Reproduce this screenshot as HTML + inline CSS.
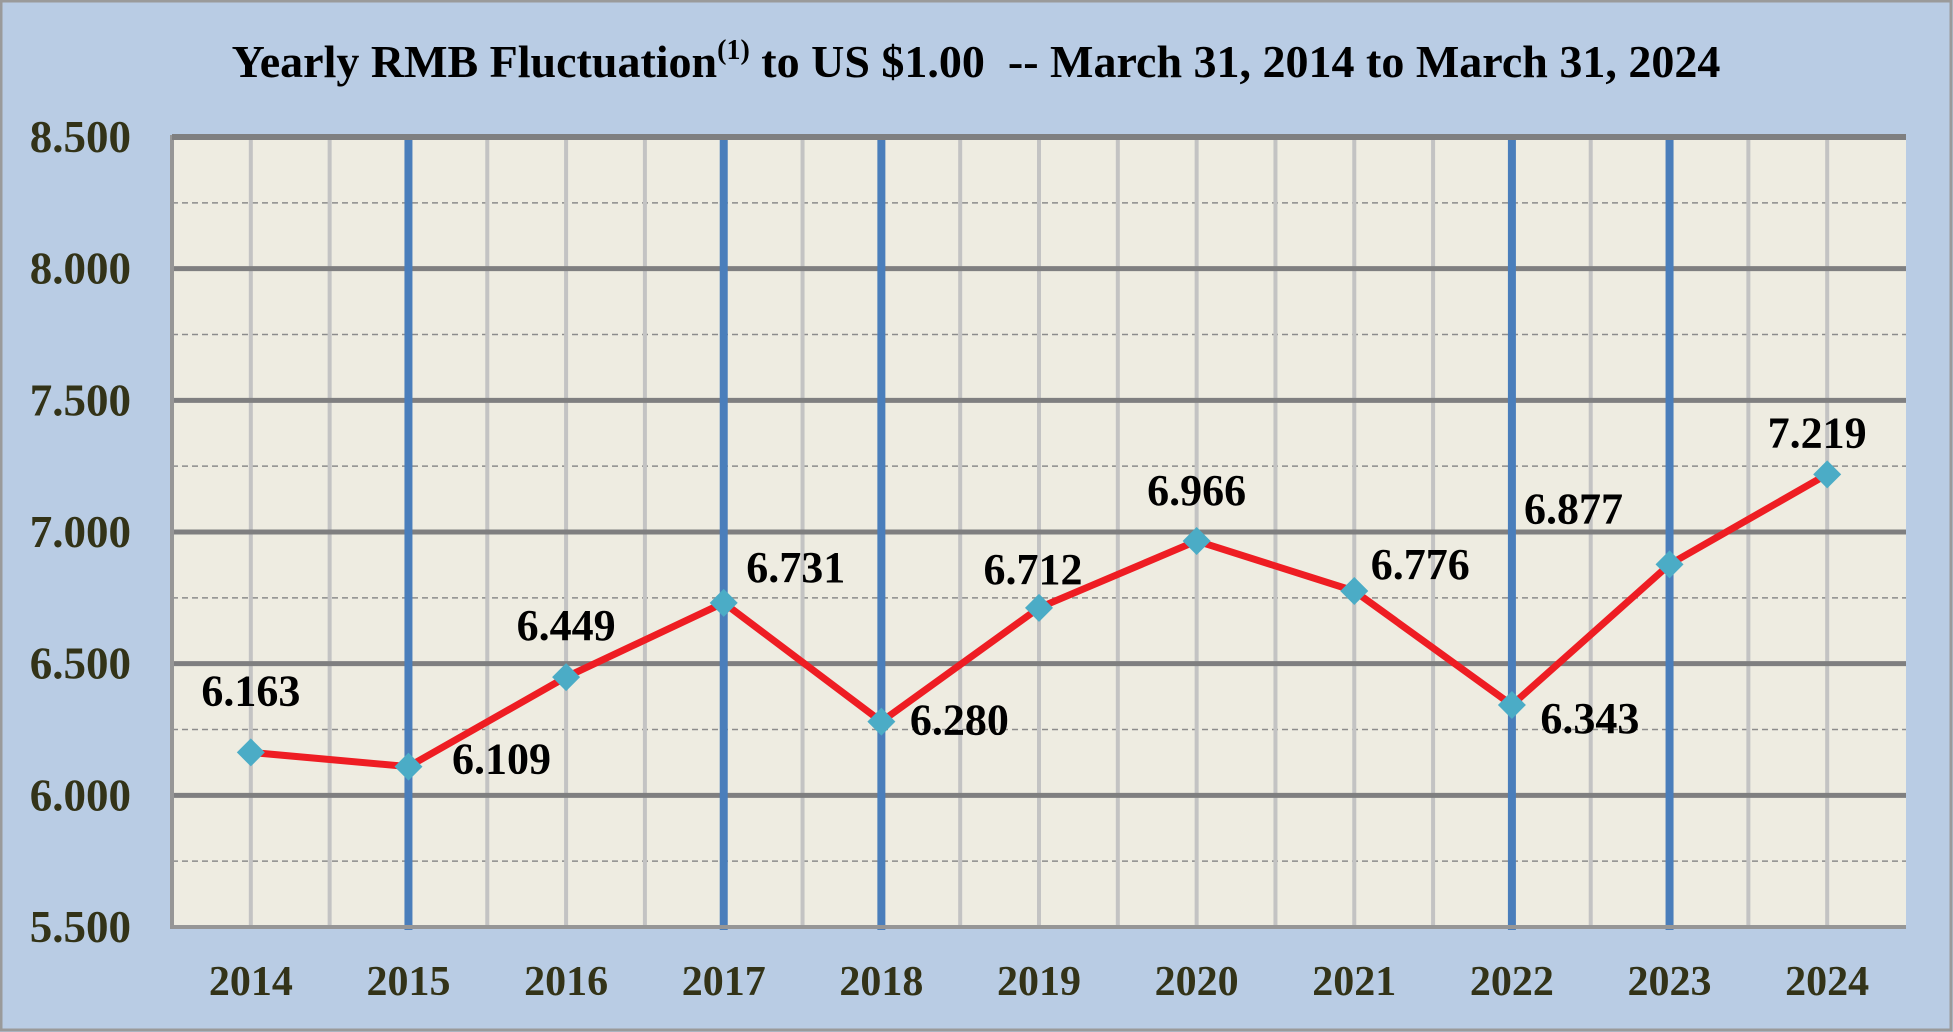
<!DOCTYPE html>
<html><head><meta charset="utf-8"><style>
html,body{margin:0;padding:0;background:#b9cce4;}
svg{display:block;font-family:"Liberation Serif",serif;font-weight:bold;}
</style></head><body>
<svg id="chart" width="1953" height="1032" xmlns="http://www.w3.org/2000/svg">
<rect x="1" y="1" width="1950" height="1029" fill="#b9cce4" stroke="#9a9a9a" stroke-width="3"/>
<text x="976" y="77" text-anchor="middle" font-size="46" fill="#000" xml:space="preserve">Yearly RMB Fluctuation<tspan font-size="28" dy="-18">(1)</tspan><tspan dy="18"> to US $1.00  -- March 31, 2014 to March 31, 2024</tspan></text>
<g id="plot"></g>
</svg>
<script>
const years = ["2014","2015","2016","2017","2018","2019","2020","2021","2022","2023","2024"];
const rates = [6.163,6.109,6.449,6.731,6.280,6.712,6.966,6.776,6.343,6.877,7.219];
const rateLabels = ["6.163","6.109","6.449","6.731","6.280","6.712","6.966","6.776","6.343","6.877","7.219"];
const yTicks = [5.5,6.0,6.5,7.0,7.5,8.0,8.5];
const yTickLabels = ["5.500","6.000","6.500","7.000","7.500","8.000","8.500"];
const blueYears = ["2015","2017","2018","2022","2023"];

(function(){
const NS="http://www.w3.org/2000/svg";
const L=172,R=1906,T=137,B=927,yMin=5.5,yMax=8.5;
const step=(R-L)/years.length;
const xi=i=>L+step*(i+0.5);
const y=v=>B-(v-yMin)/(yMax-yMin)*(B-T);
const g=document.getElementById('plot');
function mk(tag,a){const e=document.createElementNS(NS,tag);for(const k in a)e.setAttribute(k,a[k]);g.appendChild(e);return e;}
const offs=[[0,-62],[93,-8],[0,-52],[72,-36],[78,-2],[-6,-39],[0,-51],[66,-27],[78,13],[-96,-56],[-10,-42]];

const bg=mk('rect',{x:L,y:T,width:R-L,height:B-T,fill:'#eeece1'});


for(let v=yMin+0.25;v<yMax;v+=0.5){
 const l=mk('line',{x1:L,x2:R,y1:y(v),y2:y(v),stroke:'#8c8c8c','stroke-width':1.5,'stroke-dasharray':'6,4'});
 
 
}
for(let k=1;k<years.length*2;k++){
 const x=L+step*k/2;
 const l=mk('line',{x1:x,x2:x,y1:T,y2:B,stroke:'#c3c3c3','stroke-width':4});
 
 
}
yTicks.forEach((v,i)=>{
 if(i>0){const l=mk('line',{x1:L,x2:R,y1:y(v),y2:y(v),stroke:'#7f7f80','stroke-width':5});
 
 }
 const t=mk('text',{x:131,y:y(v)+15,'text-anchor':'end','font-size':45,fill:'#333318'});
 t.textContent=yTickLabels[i];
 
 
});
years.forEach((yr,i)=>{
 if(blueYears.includes(yr)){const l=mk('line',{x1:xi(i),x2:xi(i),y1:T,y2:B+3,stroke:'#4a7ebb','stroke-width':8});
 
 }
 const t=mk('text',{x:xi(i),y:995,'text-anchor':'middle','font-size':42,fill:'#333318'});
 t.textContent=yr;
 
 
});
const ax=mk('path',{d:`M${L} ${T-2}V${B}H${R}`,fill:'none',stroke:'#969696','stroke-width':4});


const topLine=mk('line',{x1:L,x2:R,y1:T,y2:T,stroke:'#7f7f80','stroke-width':6});


const line=mk('polyline',{points:rates.map((v,i)=>xi(i)+','+y(v)).join(' '),fill:'none',stroke:'#ee1d23','stroke-width':7,'stroke-linejoin':'round'});


rates.forEach((v,i)=>{
 const cx=xi(i),cy=y(v),s=14;
 const d=mk('polygon',{points:`${cx},${cy-s} ${cx+s},${cy} ${cx},${cy+s} ${cx-s},${cy}`,fill:'#4bacc6'});
 
 
 const t=mk('text',{x:cx+offs[i][0],y:cy+offs[i][1]+15,'text-anchor':'middle','font-size':44,fill:'#000'});
 t.textContent=rateLabels[i];
 
 
});
})();
</script>
</body></html>
